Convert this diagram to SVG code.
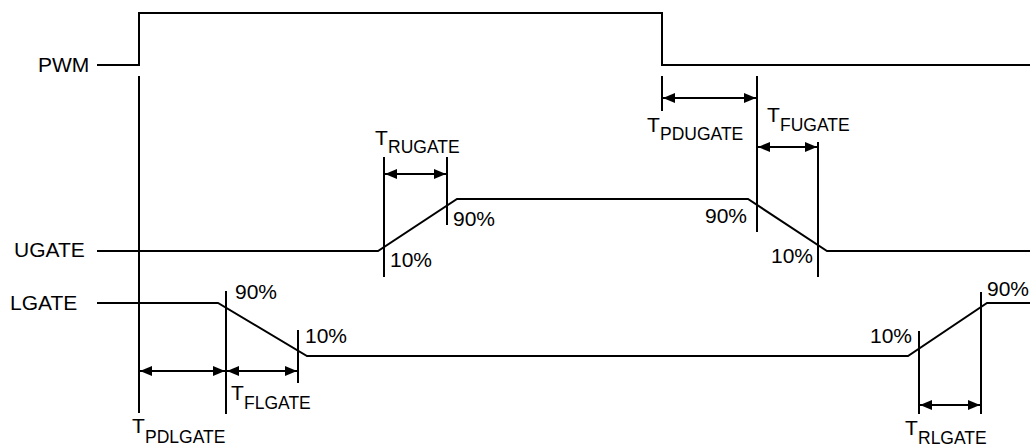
<svg xmlns="http://www.w3.org/2000/svg" width="1030" height="446" viewBox="0 0 1030 446">
<defs>
<marker id="ah" markerWidth="13" markerHeight="11" refX="12" refY="5.5" orient="auto-start-reverse" markerUnits="userSpaceOnUse">
<path d="M0,0.5 L12,5.5 L0,10.5 Z" fill="#000"/>
</marker>
</defs>
<style>
.w{fill:none;stroke:#000;stroke-width:2}
.v{fill:none;stroke:#000;stroke-width:2}
.a{fill:none;stroke:#000;stroke-width:2;marker-start:url(#ah);marker-end:url(#ah)}
text{font-family:"Liberation Sans",Arial,sans-serif;font-size:21px;fill:#000}
.s{font-size:17.5px}
.e{text-anchor:end}
</style>
<rect width="1030" height="446" fill="#fff"/>
<g id="pwm">
<text x="38" y="72">PWM</text>
<path class="w" d="M97 65 H139 V13 H662 V65 H1030"/>
</g>
<g id="ugate">
<text x="14" y="257">UGATE</text>
<path class="w" d="M97 251 H378 L457 199 H748 L827 251 H1030"/>
<text x="390" y="267">10%</text>
<text x="453" y="226">90%</text>
<text class="e" x="747" y="223">90%</text>
<text class="e" x="813" y="263">10%</text>
</g>
<g id="lgate">
<text x="10" y="310">LGATE</text>
<path class="w" d="M97 303 H218 L307 356 H908 L987 303 H1030"/>
<text x="235" y="299">90%</text>
<text x="305" y="343">10%</text>
<text class="e" x="912" y="343">10%</text>
<text x="987" y="296">90%</text>
</g>
<g id="t-rugate"><text x="375" y="145">T</text><text class="s" x="388" y="153">RUGATE</text></g>
<g id="t-pdugate"><text x="647" y="132">T</text><text class="s" x="660" y="140">PDUGATE</text></g>
<g id="t-fugate"><text x="767" y="122">T</text><text class="s" x="780" y="131">FUGATE</text></g>
<g id="t-flgate"><text x="231" y="400">T</text><text class="s" x="244" y="409">FLGATE</text></g>
<g id="t-pdlgate"><text x="132" y="433">T</text><text class="s" x="145" y="443">PDLGATE</text></g>
<g id="t-rlgate"><text x="905" y="435">T</text><text class="s" x="918" y="444">RLGATE</text></g>
<g id="connectors">
<line class="v" x1="139" y1="76" x2="139" y2="413"/>
<line class="v" x1="384" y1="157" x2="384" y2="277"/>
<line class="v" x1="447" y1="157" x2="447" y2="225"/>
<line class="v" x1="662" y1="76" x2="662" y2="111"/>
<line class="v" x1="757" y1="76" x2="757" y2="232"/>
<line class="v" x1="818" y1="142" x2="818" y2="277"/>
<line class="v" x1="226" y1="291" x2="226" y2="414"/>
<line class="v" x1="298" y1="330" x2="298" y2="383"/>
<line class="v" x1="919" y1="331" x2="919" y2="414"/>
<line class="v" x1="981" y1="292" x2="981" y2="414"/>
<line class="a" x1="385" y1="174" x2="446" y2="174"/>
<line class="a" x1="663" y1="98" x2="756" y2="98"/>
<line class="a" x1="758" y1="147" x2="817" y2="147"/>
<line class="a" x1="140" y1="371" x2="225" y2="371"/>
<line class="a" x1="227" y1="371" x2="297" y2="371"/>
<line class="a" x1="920" y1="405" x2="980" y2="405"/>
</g>
</svg>
